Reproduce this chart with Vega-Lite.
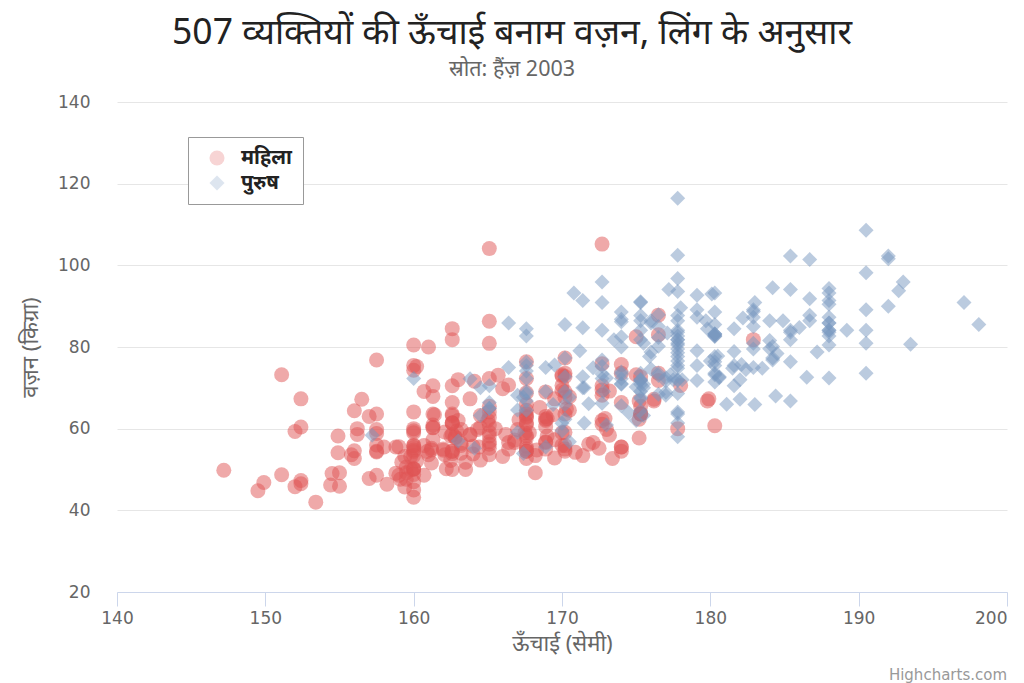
{
  "$schema": "https://vega.github.io/schema/vega-lite/v6.json",
  "autosize": {"type": "none"},
  "width": 890,
  "height": 490,
  "padding": {"left": 117, "top": 102, "right": 17, "bottom": 91},
  "background": "white",
  "title": {
    "text": "507 व्यक्तियों की ऊँचाई बनाम वज़न, लिंग के अनुसार",
    "subtitle": "स्रोत: हैंज़ 2003",
    "font": "Noto Sans",
    "fontSize": 35.5,
    "fontWeight": "normal",
    "color": "#222222",
    "subtitleFont": "Noto Sans",
    "subtitleFontSize": 21.5,
    "subtitleColor": "#666666",
    "subtitlePadding": 7,
    "anchor": "middle",
    "dx": -50,
    "offset": 13
  },
  "config": {
    "view": {"stroke": null},
    "axis": {
      "labelFont": "DejaVu Sans",
      "labelFontSize": 17,
      "labelColor": "#666666",
      "titleFont": "Noto Sans",
      "titleFontSize": 22,
      "titleFontWeight": "normal",
      "titleColor": "#666666"
    }
  },
  "layer": [
    {
      "data": {
        "values": [
          {"gender": "महिला", "height": 161.2, "weight": 51.6},
          {"gender": "महिला", "height": 167.5, "weight": 59.0},
          {"gender": "महिला", "height": 159.5, "weight": 49.2},
          {"gender": "महिला", "height": 157.0, "weight": 63.0},
          {"gender": "महिला", "height": 155.8, "weight": 53.6},
          {"gender": "महिला", "height": 170.0, "weight": 59.0},
          {"gender": "महिला", "height": 159.1, "weight": 47.6},
          {"gender": "महिला", "height": 166.0, "weight": 69.8},
          {"gender": "महिला", "height": 176.2, "weight": 66.8},
          {"gender": "महिला", "height": 160.2, "weight": 75.2},
          {"gender": "महिला", "height": 172.5, "weight": 55.2},
          {"gender": "महिला", "height": 170.9, "weight": 54.2},
          {"gender": "महिला", "height": 172.9, "weight": 62.5},
          {"gender": "महिला", "height": 153.4, "weight": 42.0},
          {"gender": "महिला", "height": 160.0, "weight": 50.0},
          {"gender": "महिला", "height": 147.2, "weight": 49.8},
          {"gender": "महिला", "height": 168.2, "weight": 49.2},
          {"gender": "महिला", "height": 175.0, "weight": 73.2},
          {"gender": "महिला", "height": 157.0, "weight": 47.8},
          {"gender": "महिला", "height": 167.6, "weight": 68.8},
          {"gender": "महिला", "height": 159.5, "weight": 50.6},
          {"gender": "महिला", "height": 175.0, "weight": 82.5},
          {"gender": "महिला", "height": 166.8, "weight": 57.2},
          {"gender": "महिला", "height": 176.5, "weight": 87.8},
          {"gender": "महिला", "height": 170.2, "weight": 72.8},
          {"gender": "महिला", "height": 174.0, "weight": 54.5},
          {"gender": "महिला", "height": 173.0, "weight": 59.8},
          {"gender": "महिला", "height": 179.9, "weight": 67.3},
          {"gender": "महिला", "height": 170.5, "weight": 67.8},
          {"gender": "महिला", "height": 160.0, "weight": 47.0},
          {"gender": "महिला", "height": 154.4, "weight": 46.2},
          {"gender": "महिला", "height": 162.0, "weight": 55.0},
          {"gender": "महिला", "height": 176.5, "weight": 83.0},
          {"gender": "महिला", "height": 160.0, "weight": 54.4},
          {"gender": "महिला", "height": 152.0, "weight": 45.8},
          {"gender": "महिला", "height": 162.1, "weight": 53.6},
          {"gender": "महिला", "height": 170.0, "weight": 73.2},
          {"gender": "महिला", "height": 160.2, "weight": 52.1},
          {"gender": "महिला", "height": 161.3, "weight": 67.9},
          {"gender": "महिला", "height": 166.4, "weight": 56.6},
          {"gender": "महिला", "height": 168.9, "weight": 62.3},
          {"gender": "महिला", "height": 163.8, "weight": 58.5},
          {"gender": "महिला", "height": 167.6, "weight": 54.5},
          {"gender": "महिला", "height": 160.0, "weight": 50.2},
          {"gender": "महिला", "height": 161.3, "weight": 60.3},
          {"gender": "महिला", "height": 167.6, "weight": 58.3},
          {"gender": "महिला", "height": 165.1, "weight": 56.2},
          {"gender": "महिला", "height": 160.0, "weight": 50.2},
          {"gender": "महिला", "height": 170.0, "weight": 72.9},
          {"gender": "महिला", "height": 157.5, "weight": 59.8},
          {"gender": "महिला", "height": 167.6, "weight": 61.0},
          {"gender": "महिला", "height": 160.7, "weight": 69.1},
          {"gender": "महिला", "height": 163.2, "weight": 55.9},
          {"gender": "महिला", "height": 152.4, "weight": 46.5},
          {"gender": "महिला", "height": 157.5, "weight": 54.3},
          {"gender": "महिला", "height": 168.3, "weight": 54.8},
          {"gender": "महिला", "height": 180.3, "weight": 60.7},
          {"gender": "महिला", "height": 165.5, "weight": 60.0},
          {"gender": "महिला", "height": 165.0, "weight": 62.0},
          {"gender": "महिला", "height": 164.5, "weight": 60.3},
          {"gender": "महिला", "height": 156.0, "weight": 52.7},
          {"gender": "महिला", "height": 160.0, "weight": 74.3},
          {"gender": "महिला", "height": 163.0, "weight": 62.0},
          {"gender": "महिला", "height": 165.7, "weight": 73.1},
          {"gender": "महिला", "height": 161.0, "weight": 80.0},
          {"gender": "महिला", "height": 162.0, "weight": 54.7},
          {"gender": "महिला", "height": 166.0, "weight": 53.2},
          {"gender": "महिला", "height": 174.0, "weight": 75.7},
          {"gender": "महिला", "height": 172.7, "weight": 61.1},
          {"gender": "महिला", "height": 167.6, "weight": 55.7},
          {"gender": "महिला", "height": 151.1, "weight": 48.7},
          {"gender": "महिला", "height": 164.5, "weight": 52.3},
          {"gender": "महिला", "height": 163.5, "weight": 50.0},
          {"gender": "महिला", "height": 152.0, "weight": 59.3},
          {"gender": "महिला", "height": 169.0, "weight": 62.5},
          {"gender": "महिला", "height": 164.0, "weight": 55.7},
          {"gender": "महिला", "height": 161.2, "weight": 54.8},
          {"gender": "महिला", "height": 155.0, "weight": 45.9},
          {"gender": "महिला", "height": 170.0, "weight": 70.6},
          {"gender": "महिला", "height": 176.2, "weight": 67.2},
          {"gender": "महिला", "height": 170.0, "weight": 69.4},
          {"gender": "महिला", "height": 162.5, "weight": 58.2},
          {"gender": "महिला", "height": 170.3, "weight": 64.8},
          {"gender": "महिला", "height": 164.1, "weight": 71.6},
          {"gender": "महिला", "height": 169.5, "weight": 52.8},
          {"gender": "महिला", "height": 163.2, "weight": 59.8},
          {"gender": "महिला", "height": 154.5, "weight": 49.0},
          {"gender": "महिला", "height": 159.8, "weight": 50.0},
          {"gender": "महिला", "height": 173.2, "weight": 69.2},
          {"gender": "महिला", "height": 170.0, "weight": 55.9},
          {"gender": "महिला", "height": 161.4, "weight": 63.4},
          {"gender": "महिला", "height": 169.0, "weight": 58.2},
          {"gender": "महिला", "height": 166.2, "weight": 58.6},
          {"gender": "महिला", "height": 159.4, "weight": 45.7},
          {"gender": "महिला", "height": 162.5, "weight": 52.2},
          {"gender": "महिला", "height": 159.0, "weight": 48.6},
          {"gender": "महिला", "height": 162.8, "weight": 57.8},
          {"gender": "महिला", "height": 159.0, "weight": 55.6},
          {"gender": "महिला", "height": 179.8, "weight": 66.8},
          {"gender": "महिला", "height": 162.9, "weight": 59.4},
          {"gender": "महिला", "height": 161.0, "weight": 53.6},
          {"gender": "महिला", "height": 151.1, "weight": 73.2},
          {"gender": "महिला", "height": 168.2, "weight": 53.4},
          {"gender": "महिला", "height": 168.9, "weight": 69.0},
          {"gender": "महिला", "height": 173.2, "weight": 58.4},
          {"gender": "महिला", "height": 171.8, "weight": 56.2},
          {"gender": "महिला", "height": 178.0, "weight": 70.6},
          {"gender": "महिला", "height": 164.3, "weight": 59.8},
          {"gender": "महिला", "height": 163.0, "weight": 72.0},
          {"gender": "महिला", "height": 168.5, "weight": 65.2},
          {"gender": "महिला", "height": 166.8, "weight": 56.6},
          {"gender": "महिला", "height": 172.7, "weight": 105.2},
          {"gender": "महिला", "height": 163.5, "weight": 51.8},
          {"gender": "महिला", "height": 169.4, "weight": 63.4},
          {"gender": "महिला", "height": 167.8, "weight": 59.0},
          {"gender": "महिला", "height": 159.5, "weight": 47.6},
          {"gender": "महिला", "height": 167.6, "weight": 63.0},
          {"gender": "महिला", "height": 161.2, "weight": 55.2},
          {"gender": "महिला", "height": 160.0, "weight": 45.0},
          {"gender": "महिला", "height": 163.2, "weight": 54.0},
          {"gender": "महिला", "height": 162.2, "weight": 50.2},
          {"gender": "महिला", "height": 161.3, "weight": 60.2},
          {"gender": "महिला", "height": 149.5, "weight": 44.8},
          {"gender": "महिला", "height": 157.5, "weight": 58.8},
          {"gender": "महिला", "height": 163.2, "weight": 56.4},
          {"gender": "महिला", "height": 172.7, "weight": 62.0},
          {"gender": "महिला", "height": 155.0, "weight": 49.2},
          {"gender": "महिला", "height": 156.5, "weight": 67.2},
          {"gender": "महिला", "height": 164.0, "weight": 53.8},
          {"gender": "महिला", "height": 160.9, "weight": 54.4},
          {"gender": "महिला", "height": 162.8, "weight": 58.0},
          {"gender": "महिला", "height": 167.0, "weight": 59.8},
          {"gender": "महिला", "height": 160.0, "weight": 54.8},
          {"gender": "महिला", "height": 160.0, "weight": 43.2},
          {"gender": "महिला", "height": 168.9, "weight": 60.5},
          {"gender": "महिला", "height": 158.2, "weight": 46.4},
          {"gender": "महिला", "height": 156.0, "weight": 64.4},
          {"gender": "महिला", "height": 160.0, "weight": 48.8},
          {"gender": "महिला", "height": 167.1, "weight": 62.2},
          {"gender": "महिला", "height": 158.0, "weight": 55.5},
          {"gender": "महिला", "height": 167.6, "weight": 57.8},
          {"gender": "महिला", "height": 156.0, "weight": 54.6},
          {"gender": "महिला", "height": 162.1, "weight": 59.2},
          {"gender": "महिला", "height": 173.4, "weight": 52.7},
          {"gender": "महिला", "height": 159.8, "weight": 53.2},
          {"gender": "महिला", "height": 170.5, "weight": 64.5},
          {"gender": "महिला", "height": 159.2, "weight": 51.8},
          {"gender": "महिला", "height": 157.5, "weight": 56.0},
          {"gender": "महिला", "height": 161.3, "weight": 63.6},
          {"gender": "महिला", "height": 162.6, "weight": 63.2},
          {"gender": "महिला", "height": 160.0, "weight": 59.5},
          {"gender": "महिला", "height": 168.9, "weight": 56.8},
          {"gender": "महिला", "height": 165.1, "weight": 64.1},
          {"gender": "महिला", "height": 162.6, "weight": 50.0},
          {"gender": "महिला", "height": 165.1, "weight": 72.3},
          {"gender": "महिला", "height": 166.4, "weight": 55.0},
          {"gender": "महिला", "height": 160.0, "weight": 55.9},
          {"gender": "महिला", "height": 152.4, "weight": 60.4},
          {"gender": "महिला", "height": 170.2, "weight": 69.1},
          {"gender": "महिला", "height": 162.6, "weight": 84.5},
          {"gender": "महिला", "height": 170.2, "weight": 55.9},
          {"gender": "महिला", "height": 158.8, "weight": 55.5},
          {"gender": "महिला", "height": 172.7, "weight": 69.5},
          {"gender": "महिला", "height": 167.6, "weight": 76.4},
          {"gender": "महिला", "height": 162.6, "weight": 61.4},
          {"gender": "महिला", "height": 167.6, "weight": 65.9},
          {"gender": "महिला", "height": 156.2, "weight": 58.6},
          {"gender": "महिला", "height": 175.2, "weight": 66.8},
          {"gender": "महिला", "height": 172.1, "weight": 56.6},
          {"gender": "महिला", "height": 162.6, "weight": 58.6},
          {"gender": "महिला", "height": 160.0, "weight": 55.9},
          {"gender": "महिला", "height": 165.1, "weight": 59.1},
          {"gender": "महिला", "height": 182.9, "weight": 81.8},
          {"gender": "महिला", "height": 166.4, "weight": 70.7},
          {"gender": "महिला", "height": 165.1, "weight": 56.8},
          {"gender": "महिला", "height": 177.8, "weight": 60.0},
          {"gender": "महिला", "height": 165.1, "weight": 58.2},
          {"gender": "महिला", "height": 175.3, "weight": 72.7},
          {"gender": "महिला", "height": 154.9, "weight": 54.1},
          {"gender": "महिला", "height": 158.8, "weight": 49.1},
          {"gender": "महिला", "height": 172.7, "weight": 75.9},
          {"gender": "महिला", "height": 168.9, "weight": 55.0},
          {"gender": "महिला", "height": 161.3, "weight": 57.3},
          {"gender": "महिला", "height": 167.6, "weight": 55.0},
          {"gender": "महिला", "height": 165.1, "weight": 65.5},
          {"gender": "महिला", "height": 175.3, "weight": 65.5},
          {"gender": "महिला", "height": 157.5, "weight": 48.6},
          {"gender": "महिला", "height": 163.8, "weight": 58.6},
          {"gender": "महिला", "height": 167.6, "weight": 63.6},
          {"gender": "महिला", "height": 165.1, "weight": 55.2},
          {"gender": "महिला", "height": 165.1, "weight": 62.7},
          {"gender": "महिला", "height": 168.9, "weight": 56.6},
          {"gender": "महिला", "height": 162.6, "weight": 53.9},
          {"gender": "महिला", "height": 164.5, "weight": 63.2},
          {"gender": "महिला", "height": 176.5, "weight": 73.6},
          {"gender": "महिला", "height": 168.9, "weight": 62.0},
          {"gender": "महिला", "height": 175.3, "weight": 63.6},
          {"gender": "महिला", "height": 159.4, "weight": 53.2},
          {"gender": "महिला", "height": 160.0, "weight": 53.4},
          {"gender": "महिला", "height": 170.2, "weight": 55.0},
          {"gender": "महिला", "height": 162.6, "weight": 70.5},
          {"gender": "महिला", "height": 167.6, "weight": 54.5},
          {"gender": "महिला", "height": 162.6, "weight": 54.5},
          {"gender": "महिला", "height": 160.7, "weight": 55.9},
          {"gender": "महिला", "height": 160.0, "weight": 59.0},
          {"gender": "महिला", "height": 157.5, "weight": 63.6},
          {"gender": "महिला", "height": 162.6, "weight": 54.5},
          {"gender": "महिला", "height": 152.4, "weight": 47.3},
          {"gender": "महिला", "height": 170.2, "weight": 67.7},
          {"gender": "महिला", "height": 165.1, "weight": 80.9},
          {"gender": "महिला", "height": 172.7, "weight": 70.5},
          {"gender": "महिला", "height": 165.1, "weight": 60.9},
          {"gender": "महिला", "height": 170.2, "weight": 63.6},
          {"gender": "महिला", "height": 170.2, "weight": 54.5},
          {"gender": "महिला", "height": 170.2, "weight": 59.1},
          {"gender": "महिला", "height": 161.3, "weight": 70.5},
          {"gender": "महिला", "height": 167.6, "weight": 52.7},
          {"gender": "महिला", "height": 167.6, "weight": 62.7},
          {"gender": "महिला", "height": 165.1, "weight": 86.3},
          {"gender": "महिला", "height": 162.6, "weight": 66.4},
          {"gender": "महिला", "height": 152.4, "weight": 67.3},
          {"gender": "महिला", "height": 168.9, "weight": 63.0},
          {"gender": "महिला", "height": 170.2, "weight": 73.6},
          {"gender": "महिला", "height": 175.2, "weight": 62.3},
          {"gender": "महिला", "height": 175.2, "weight": 57.7},
          {"gender": "महिला", "height": 160.0, "weight": 55.4},
          {"gender": "महिला", "height": 165.1, "weight": 104.1},
          {"gender": "महिला", "height": 174.0, "weight": 55.5},
          {"gender": "महिला", "height": 170.2, "weight": 77.3},
          {"gender": "महिला", "height": 160.0, "weight": 80.5},
          {"gender": "महिला", "height": 167.6, "weight": 64.5},
          {"gender": "महिला", "height": 167.6, "weight": 72.3},
          {"gender": "महिला", "height": 167.6, "weight": 61.4},
          {"gender": "महिला", "height": 154.9, "weight": 58.2},
          {"gender": "महिला", "height": 162.6, "weight": 81.8},
          {"gender": "महिला", "height": 175.3, "weight": 63.6},
          {"gender": "महिला", "height": 171.4, "weight": 53.4},
          {"gender": "महिला", "height": 157.5, "weight": 54.5},
          {"gender": "महिला", "height": 165.1, "weight": 53.6},
          {"gender": "महिला", "height": 160.0, "weight": 60.0},
          {"gender": "महिला", "height": 174.0, "weight": 73.6},
          {"gender": "महिला", "height": 162.6, "weight": 61.4},
          {"gender": "महिला", "height": 174.0, "weight": 55.5},
          {"gender": "महिला", "height": 162.6, "weight": 63.6},
          {"gender": "महिला", "height": 161.3, "weight": 60.9},
          {"gender": "महिला", "height": 156.2, "weight": 60.0},
          {"gender": "महिला", "height": 149.9, "weight": 46.8},
          {"gender": "महिला", "height": 169.5, "weight": 57.3},
          {"gender": "महिला", "height": 160.0, "weight": 64.1},
          {"gender": "महिला", "height": 175.3, "weight": 63.6},
          {"gender": "महिला", "height": 169.5, "weight": 67.3},
          {"gender": "महिला", "height": 160.0, "weight": 75.5},
          {"gender": "महिला", "height": 172.7, "weight": 68.2},
          {"gender": "महिला", "height": 162.6, "weight": 61.4},
          {"gender": "महिला", "height": 157.5, "weight": 76.8},
          {"gender": "महिला", "height": 176.5, "weight": 71.8},
          {"gender": "महिला", "height": 164.4, "weight": 55.5},
          {"gender": "महिला", "height": 160.7, "weight": 48.6},
          {"gender": "महिला", "height": 174.0, "weight": 66.4},
          {"gender": "महिला", "height": 163.8, "weight": 67.3},
          {"gender": "पुरुष", "height": 174.0, "weight": 65.6},
          {"gender": "पुरुष", "height": 175.3, "weight": 71.8},
          {"gender": "पुरुष", "height": 193.5, "weight": 80.7},
          {"gender": "पुरुष", "height": 186.5, "weight": 72.6},
          {"gender": "पुरुष", "height": 187.2, "weight": 78.8},
          {"gender": "पुरुष", "height": 181.5, "weight": 74.8},
          {"gender": "पुरुष", "height": 184.0, "weight": 86.4},
          {"gender": "पुरुष", "height": 184.5, "weight": 78.4},
          {"gender": "पुरुष", "height": 175.0, "weight": 62.0},
          {"gender": "पुरुष", "height": 184.0, "weight": 81.6},
          {"gender": "पुरुष", "height": 180.0, "weight": 76.6},
          {"gender": "पुरुष", "height": 177.8, "weight": 83.6},
          {"gender": "पुरुष", "height": 192.0, "weight": 90.0},
          {"gender": "पुरुष", "height": 176.0, "weight": 74.6},
          {"gender": "पुरुष", "height": 174.0, "weight": 71.0},
          {"gender": "पुरुष", "height": 184.0, "weight": 79.6},
          {"gender": "पुरुष", "height": 192.7, "weight": 93.8},
          {"gender": "पुरुष", "height": 171.5, "weight": 70.0},
          {"gender": "पुरुष", "height": 173.0, "weight": 72.4},
          {"gender": "पुरुष", "height": 176.0, "weight": 85.9},
          {"gender": "पुरुष", "height": 176.0, "weight": 78.8},
          {"gender": "पुरुष", "height": 180.5, "weight": 77.8},
          {"gender": "पुरुष", "height": 172.7, "weight": 66.2},
          {"gender": "पुरुष", "height": 176.0, "weight": 86.4},
          {"gender": "पुरुष", "height": 173.5, "weight": 81.8},
          {"gender": "पुरुष", "height": 178.0, "weight": 89.6},
          {"gender": "पुरुष", "height": 180.3, "weight": 82.8},
          {"gender": "पुरुष", "height": 180.3, "weight": 76.4},
          {"gender": "पुरुष", "height": 164.5, "weight": 63.2},
          {"gender": "पुरुष", "height": 173.0, "weight": 60.9},
          {"gender": "पुरुष", "height": 183.5, "weight": 74.8},
          {"gender": "पुरुष", "height": 175.5, "weight": 70.0},
          {"gender": "पुरुष", "height": 188.0, "weight": 72.4},
          {"gender": "पुरुष", "height": 189.2, "weight": 84.1},
          {"gender": "पुरुष", "height": 172.8, "weight": 69.1},
          {"gender": "पुरुष", "height": 170.0, "weight": 59.5},
          {"gender": "पुरुष", "height": 182.0, "weight": 67.2},
          {"gender": "पुरुष", "height": 170.0, "weight": 61.3},
          {"gender": "पुरुष", "height": 177.8, "weight": 68.6},
          {"gender": "पुरुष", "height": 184.2, "weight": 80.1},
          {"gender": "पुरुष", "height": 186.7, "weight": 87.8},
          {"gender": "पुरुष", "height": 171.4, "weight": 84.7},
          {"gender": "पुरुष", "height": 172.7, "weight": 73.4},
          {"gender": "पुरुष", "height": 175.3, "weight": 72.1},
          {"gender": "पुरुष", "height": 180.3, "weight": 82.6},
          {"gender": "पुरुष", "height": 182.9, "weight": 88.7},
          {"gender": "पुरुष", "height": 188.0, "weight": 84.1},
          {"gender": "पुरुष", "height": 177.2, "weight": 94.1},
          {"gender": "पुरुष", "height": 172.1, "weight": 74.9},
          {"gender": "पुरुष", "height": 167.0, "weight": 59.1},
          {"gender": "पुरुष", "height": 169.5, "weight": 75.6},
          {"gender": "पुरुष", "height": 174.0, "weight": 86.2},
          {"gender": "पुरुष", "height": 172.7, "weight": 75.3},
          {"gender": "पुरुष", "height": 182.2, "weight": 87.1},
          {"gender": "पुरुष", "height": 164.1, "weight": 55.2},
          {"gender": "पुरुष", "height": 163.0, "weight": 57.0},
          {"gender": "पुरुष", "height": 171.5, "weight": 61.4},
          {"gender": "पुरुष", "height": 184.2, "weight": 76.8},
          {"gender": "पुरुष", "height": 174.0, "weight": 86.8},
          {"gender": "पुरुष", "height": 174.0, "weight": 72.2},
          {"gender": "पुरुष", "height": 177.0, "weight": 71.6},
          {"gender": "पुरुष", "height": 186.0, "weight": 84.8},
          {"gender": "पुरुष", "height": 167.0, "weight": 68.2},
          {"gender": "पुरुष", "height": 171.8, "weight": 66.1},
          {"gender": "पुरुष", "height": 182.0, "weight": 72.0},
          {"gender": "पुरुष", "height": 167.0, "weight": 64.6},
          {"gender": "पुरुष", "height": 177.8, "weight": 74.8},
          {"gender": "पुरुष", "height": 164.5, "weight": 70.0},
          {"gender": "पुरुष", "height": 192.0, "weight": 101.6},
          {"gender": "पुरुष", "height": 175.5, "weight": 63.2},
          {"gender": "पुरुष", "height": 171.2, "weight": 79.1},
          {"gender": "पुरुष", "height": 181.6, "weight": 78.9},
          {"gender": "पुरुष", "height": 167.4, "weight": 67.7},
          {"gender": "पुरुष", "height": 181.1, "weight": 66.0},
          {"gender": "पुरुष", "height": 177.0, "weight": 68.2},
          {"gender": "पुरुष", "height": 174.5, "weight": 63.9},
          {"gender": "पुरुष", "height": 177.5, "weight": 72.0},
          {"gender": "पुरुष", "height": 170.5, "weight": 56.8},
          {"gender": "पुरुष", "height": 182.4, "weight": 74.5},
          {"gender": "पुरुष", "height": 197.1, "weight": 90.9},
          {"gender": "पुरुष", "height": 180.1, "weight": 93.0},
          {"gender": "पुरुष", "height": 175.5, "weight": 80.9},
          {"gender": "पुरुष", "height": 180.6, "weight": 72.7},
          {"gender": "पुरुष", "height": 184.4, "weight": 68.0},
          {"gender": "पुरुष", "height": 175.5, "weight": 70.9},
          {"gender": "पुरुष", "height": 180.6, "weight": 72.5},
          {"gender": "पुरुष", "height": 177.0, "weight": 72.5},
          {"gender": "पुरुष", "height": 177.1, "weight": 83.4},
          {"gender": "पुरुष", "height": 181.6, "weight": 75.5},
          {"gender": "पुरुष", "height": 176.5, "weight": 73.0},
          {"gender": "पुरुष", "height": 175.0, "weight": 70.2},
          {"gender": "पुरुष", "height": 174.0, "weight": 73.4},
          {"gender": "पुरुष", "height": 165.1, "weight": 70.5},
          {"gender": "पुरुष", "height": 177.0, "weight": 68.9},
          {"gender": "पुरुष", "height": 192.0, "weight": 102.3},
          {"gender": "पुरुष", "height": 176.5, "weight": 68.4},
          {"gender": "पुरुष", "height": 169.4, "weight": 65.9},
          {"gender": "पुरुष", "height": 182.1, "weight": 75.7},
          {"gender": "पुरुष", "height": 179.8, "weight": 84.5},
          {"gender": "पुरुष", "height": 175.3, "weight": 87.7},
          {"gender": "पुरुष", "height": 184.9, "weight": 86.4},
          {"gender": "पुरुष", "height": 177.3, "weight": 73.2},
          {"gender": "पुरुष", "height": 167.4, "weight": 53.9},
          {"gender": "पुरुष", "height": 178.1, "weight": 72.0},
          {"gender": "पुरुष", "height": 168.9, "weight": 55.5},
          {"gender": "पुरुष", "height": 157.2, "weight": 58.4},
          {"gender": "पुरुष", "height": 180.3, "weight": 83.2},
          {"gender": "पुरुष", "height": 170.2, "weight": 72.7},
          {"gender": "पुरुष", "height": 177.8, "weight": 64.1},
          {"gender": "पुरुष", "height": 172.7, "weight": 72.3},
          {"gender": "पुरुष", "height": 165.1, "weight": 65.0},
          {"gender": "पुरुष", "height": 186.7, "weight": 86.4},
          {"gender": "पुरुष", "height": 165.1, "weight": 65.0},
          {"gender": "पुरुष", "height": 174.0, "weight": 88.6},
          {"gender": "पुरुष", "height": 175.3, "weight": 84.1},
          {"gender": "पुरुष", "height": 185.4, "weight": 66.8},
          {"gender": "पुरुष", "height": 177.8, "weight": 75.5},
          {"gender": "पुरुष", "height": 180.3, "weight": 93.2},
          {"gender": "पुरुष", "height": 180.3, "weight": 82.7},
          {"gender": "पुरुष", "height": 177.8, "weight": 58.0},
          {"gender": "पुरुष", "height": 177.8, "weight": 79.5},
          {"gender": "पुरुष", "height": 177.8, "weight": 78.6},
          {"gender": "पुरुष", "height": 177.8, "weight": 71.8},
          {"gender": "पुरुष", "height": 177.8, "weight": 116.4},
          {"gender": "पुरुष", "height": 163.8, "weight": 72.2},
          {"gender": "पुरुष", "height": 188.0, "weight": 83.6},
          {"gender": "पुरुष", "height": 198.1, "weight": 85.5},
          {"gender": "पुरुष", "height": 175.3, "weight": 90.9},
          {"gender": "पुरुष", "height": 166.4, "weight": 85.9},
          {"gender": "पुरुष", "height": 190.5, "weight": 89.1},
          {"gender": "पुरुष", "height": 166.4, "weight": 75.0},
          {"gender": "पुरुष", "height": 177.8, "weight": 77.7},
          {"gender": "पुरुष", "height": 179.7, "weight": 86.4},
          {"gender": "पुरुष", "height": 172.7, "weight": 90.9},
          {"gender": "पुरुष", "height": 190.5, "weight": 73.6},
          {"gender": "पुरुष", "height": 185.4, "weight": 76.4},
          {"gender": "पुरुष", "height": 168.9, "weight": 69.1},
          {"gender": "पुरुष", "height": 167.6, "weight": 84.5},
          {"gender": "पुरुष", "height": 175.3, "weight": 64.5},
          {"gender": "पुरुष", "height": 170.2, "weight": 69.1},
          {"gender": "पुरुष", "height": 190.5, "weight": 108.6},
          {"gender": "पुरुष", "height": 177.8, "weight": 86.4},
          {"gender": "पुरुष", "height": 190.5, "weight": 80.9},
          {"gender": "पुरुष", "height": 177.8, "weight": 87.7},
          {"gender": "पुरुष", "height": 184.2, "weight": 94.5},
          {"gender": "पुरुष", "height": 176.5, "weight": 80.2},
          {"gender": "पुरुष", "height": 177.8, "weight": 72.0},
          {"gender": "पुरुष", "height": 180.3, "weight": 71.4},
          {"gender": "पुरुष", "height": 171.4, "weight": 72.7},
          {"gender": "पुरुष", "height": 172.7, "weight": 84.1},
          {"gender": "पुरुष", "height": 172.7, "weight": 76.8},
          {"gender": "पुरुष", "height": 177.8, "weight": 63.6},
          {"gender": "पुरुष", "height": 177.8, "weight": 80.9},
          {"gender": "पुरुष", "height": 182.9, "weight": 80.9},
          {"gender": "पुरुष", "height": 170.2, "weight": 85.5},
          {"gender": "पुरुष", "height": 167.6, "weight": 68.6},
          {"gender": "पुरुष", "height": 175.3, "weight": 67.7},
          {"gender": "पुरुष", "height": 165.1, "weight": 66.4},
          {"gender": "पुरुष", "height": 185.4, "weight": 102.3},
          {"gender": "पुरुष", "height": 181.6, "weight": 70.5},
          {"gender": "पुरुष", "height": 172.7, "weight": 95.9},
          {"gender": "पुरुष", "height": 190.5, "weight": 84.1},
          {"gender": "पुरुष", "height": 179.1, "weight": 87.3},
          {"gender": "पुरुष", "height": 175.3, "weight": 71.8},
          {"gender": "पुरुष", "height": 170.2, "weight": 65.9},
          {"gender": "पुरुष", "height": 193.0, "weight": 95.9},
          {"gender": "पुरुष", "height": 171.4, "weight": 91.4},
          {"gender": "पुरुष", "height": 177.8, "weight": 81.8},
          {"gender": "पुरुष", "height": 177.8, "weight": 96.8},
          {"gender": "पुरुष", "height": 167.6, "weight": 69.1},
          {"gender": "पुरुष", "height": 167.6, "weight": 82.7},
          {"gender": "पुरुष", "height": 180.3, "weight": 75.5},
          {"gender": "पुरुष", "height": 182.9, "weight": 79.5},
          {"gender": "पुरुष", "height": 176.5, "weight": 73.6},
          {"gender": "पुरुष", "height": 186.7, "weight": 91.8},
          {"gender": "पुरुष", "height": 188.0, "weight": 84.1},
          {"gender": "पुरुष", "height": 188.0, "weight": 85.9},
          {"gender": "पुरुष", "height": 177.8, "weight": 81.8},
          {"gender": "पुरुष", "height": 174.0, "weight": 82.5},
          {"gender": "पुरुष", "height": 177.8, "weight": 80.5},
          {"gender": "पुरुष", "height": 171.4, "weight": 70.0},
          {"gender": "पुरुष", "height": 185.4, "weight": 81.8},
          {"gender": "पुरुष", "height": 185.4, "weight": 84.1},
          {"gender": "पुरुष", "height": 188.0, "weight": 90.5},
          {"gender": "पुरुष", "height": 188.0, "weight": 91.4},
          {"gender": "पुरुष", "height": 182.9, "weight": 89.1},
          {"gender": "पुरुष", "height": 176.5, "weight": 85.0},
          {"gender": "पुरुष", "height": 175.3, "weight": 69.1},
          {"gender": "पुरुष", "height": 175.3, "weight": 73.6},
          {"gender": "पुरुष", "height": 188.0, "weight": 80.5},
          {"gender": "पुरुष", "height": 188.0, "weight": 82.7},
          {"gender": "पुरुष", "height": 175.3, "weight": 86.4},
          {"gender": "पुरुष", "height": 170.5, "weight": 67.7},
          {"gender": "पुरुष", "height": 179.1, "weight": 92.7},
          {"gender": "पुरुष", "height": 177.8, "weight": 93.6},
          {"gender": "पुरुष", "height": 175.3, "weight": 70.9},
          {"gender": "पुरुष", "height": 182.9, "weight": 75.0},
          {"gender": "पुरुष", "height": 170.8, "weight": 93.2},
          {"gender": "पुरुष", "height": 188.0, "weight": 93.2},
          {"gender": "पुरुष", "height": 180.3, "weight": 77.7},
          {"gender": "पुरुष", "height": 177.8, "weight": 61.4},
          {"gender": "पुरुष", "height": 185.4, "weight": 94.1},
          {"gender": "पुरुष", "height": 168.9, "weight": 75.0},
          {"gender": "पुरुष", "height": 185.4, "weight": 83.6},
          {"gender": "पुरुष", "height": 180.3, "weight": 85.5},
          {"gender": "पुरुष", "height": 174.0, "weight": 73.9},
          {"gender": "पुरुष", "height": 167.6, "weight": 66.8},
          {"gender": "पुरुष", "height": 182.9, "weight": 87.3},
          {"gender": "पुरुष", "height": 160.0, "weight": 72.3},
          {"gender": "पुरुष", "height": 180.3, "weight": 88.6},
          {"gender": "पुरुष", "height": 167.6, "weight": 75.5},
          {"gender": "पुरुष", "height": 186.7, "weight": 101.4},
          {"gender": "पुरुष", "height": 175.3, "weight": 91.1},
          {"gender": "पुरुष", "height": 175.3, "weight": 67.3},
          {"gender": "पुरुष", "height": 175.9, "weight": 77.7},
          {"gender": "पुरुष", "height": 175.3, "weight": 81.8},
          {"gender": "पुरुष", "height": 179.1, "weight": 75.5},
          {"gender": "पुरुष", "height": 181.6, "weight": 84.5},
          {"gender": "पुरुष", "height": 177.8, "weight": 76.6},
          {"gender": "पुरुष", "height": 182.9, "weight": 85.0},
          {"gender": "पुरुष", "height": 177.8, "weight": 102.5},
          {"gender": "पुरुष", "height": 184.2, "weight": 77.3},
          {"gender": "पुरुष", "height": 179.1, "weight": 71.8},
          {"gender": "पुरुष", "height": 176.5, "weight": 87.9},
          {"gender": "पुरुष", "height": 188.0, "weight": 94.3},
          {"gender": "पुरुष", "height": 174.0, "weight": 70.9},
          {"gender": "पुरुष", "height": 167.6, "weight": 64.5},
          {"gender": "पुरुष", "height": 170.2, "weight": 77.3},
          {"gender": "पुरुष", "height": 167.6, "weight": 72.3},
          {"gender": "पुरुष", "height": 188.0, "weight": 87.3},
          {"gender": "पुरुष", "height": 174.0, "weight": 80.0},
          {"gender": "पुरुष", "height": 176.5, "weight": 82.3},
          {"gender": "पुरुष", "height": 180.3, "weight": 73.6},
          {"gender": "पुरुष", "height": 167.6, "weight": 74.1},
          {"gender": "पुरुष", "height": 188.0, "weight": 85.9},
          {"gender": "पुरुष", "height": 180.3, "weight": 73.2},
          {"gender": "पुरुष", "height": 167.6, "weight": 76.3},
          {"gender": "पुरुष", "height": 183.0, "weight": 65.9},
          {"gender": "पुरुष", "height": 183.0, "weight": 90.9},
          {"gender": "पुरुष", "height": 179.1, "weight": 89.1},
          {"gender": "पुरुष", "height": 170.2, "weight": 62.3},
          {"gender": "पुरुष", "height": 177.8, "weight": 82.7},
          {"gender": "पुरुष", "height": 179.1, "weight": 79.1},
          {"gender": "पुरुष", "height": 190.5, "weight": 98.2},
          {"gender": "पुरुष", "height": 177.8, "weight": 84.1},
          {"gender": "पुरुष", "height": 180.3, "weight": 83.2},
          {"gender": "पुरुष", "height": 180.3, "weight": 83.2}
        ]
      },
      "mark": {"type": "point", "filled": true, "size": 225, "opacity": 0.5, "strokeWidth": 0},
      "encoding": {
        "x": {
          "field": "height",
          "type": "quantitative",
          "title": "ऊँचाई (सेमी)",
          "scale": {"domain": [140, 200], "nice": false, "zero": false},
          "axis": {
            "values": [140, 150, 160, 170, 180, 190, 200],
            "grid": false,
            "domainColor": "#ccd6eb",
            "tickColor": "#ccd6eb",
            "tickSize": 14,
            "labelPadding": 4,
            "labelFlush": false,
            "labelAlign": {"condition": {"test": "datum.value == 200", "value": "right"}, "value": "center"},
            "titlePadding": 7
          }
        },
        "y": {
          "field": "weight",
          "type": "quantitative",
          "title": "वज़न (किग्रा)",
          "scale": {"domain": [20, 140], "nice": false, "zero": false},
          "axis": {
            "values": [20, 40, 60, 80, 100, 120, 140],
            "grid": true,
            "gridColor": "#e6e6e6",
            "domain": false,
            "ticks": false,
            "tickSize": 0,
            "labelPadding": 27,
            "titlePadding": 15
          }
        },
        "color": {
          "field": "gender",
          "type": "nominal",
          "scale": {"domain": ["महिला", "पुरुष"], "range": ["rgb(223,83,83)", "rgb(119,152,191)"]},
          "legend": {
            "title": null,
            "orient": "none",
            "legendX": 71,
            "legendY": 35,
            "padding": 11,
            "strokeColor": "#999999",
            "fillColor": "white",
            "labelFont": "Noto Sans",
            "labelFontSize": 20,
            "labelFontWeight": "bold",
            "labelColor": "#222222",
            "labelOffset": 14,
            "symbolSize": 225,
            "symbolOpacity": 0.55,
            "symbolStrokeWidth": 0,
            "symbolOffset": 8,
            "rowPadding": 5
          }
        },
        "shape": {
          "field": "gender",
          "type": "nominal",
          "scale": {"domain": ["महिला", "पुरुष"], "range": ["circle", "diamond"]}
        }
      }
    },
    {
      "data": {"values": [{"credit": "Highcharts.com"}]},
      "mark": {"type": "text", "align": "right", "baseline": "middle", "font": "DejaVu Sans", "fontSize": 15, "color": "#999999"},
      "encoding": {
        "x": {"datum": 200, "type": "quantitative"},
        "y": {"datum": -0.3, "type": "quantitative"},
        "text": {"field": "credit", "type": "nominal"}
      }
    }
  ]
}
